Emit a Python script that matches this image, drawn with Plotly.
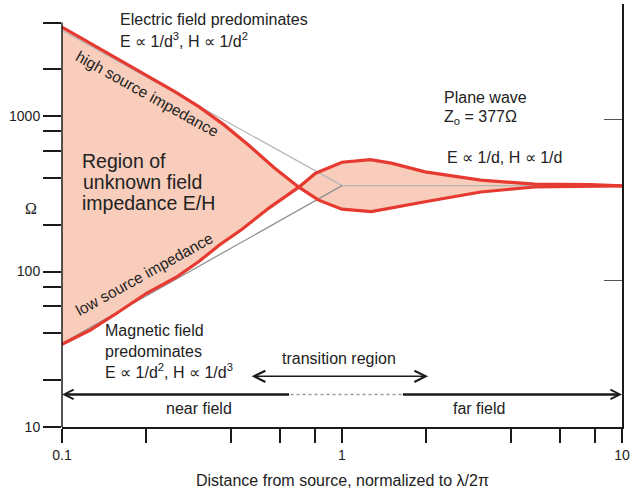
import numpy as np
import plotly.graph_objects as go

# ---------------- data ----------------
# high source impedance boundary (E/H in ohm vs distance normalised to lambda/2pi)
hi_x = [0.1, 0.1365, 0.2054, 0.252, 0.309, 0.379, 0.4655, 0.571, 0.701, 0.825, 1.0,
        1.273, 1.98, 3.13, 4.87, 7.70, 10]
hi_y = [3741, 2720, 1770, 1442, 1146, 878, 647.6, 467, 349, 288, 252,
        243, 281, 325, 350, 354, 356]
# low source impedance boundary
lo_x = [0.1, 0.1258, 0.1568, 0.2004, 0.256, 0.309, 0.364, 0.4395, 0.548, 0.701, 0.805, 1.0,
        1.262, 1.499, 1.98, 3.13, 4.87, 7.70, 10]
lo_y = [34.0, 41.9, 53.9, 72.5, 91.9, 116.5, 147.6, 187.3, 256, 349, 429.5, 505,
        525, 498, 438, 387, 365, 363, 356]
# asymptotes (grey guide lines)
gu_x = [0.1, 1, 10]
gu_y = [3570, 357, 357]
gl_x = [0.1, 1]
gl_y = [34.5, 357]
# region arrows
field_y = 16.2
near_x = [0.1, 0.655]
far_x = [1.63, 10]
trans_y = 21.2
trans_x = [0.47, 2.03]
# axes
x_ticks = [0.1, 0.2, 0.4, 0.6, 0.8, 1, 2, 4, 6, 8, 10]
x_text = ["0.1", "", "", "", "", "1", "", "", "", "", "10"]
y_ticks = [10, 20, 40, 60, 80, 100, 200, 400, 600, 800, 1000, 2000, 4000]
y_text = ["10", "", "", "", "", "100", "", "", "", "", "1000", "", ""]
r_ticks = [87.2, 957]
y_range_log = [1, 3.7212]

# ---------------- style ----------------
RED = "#E63A30"
FILL = "#F9CDBB"
AX = "#1a1a1a"
TXT = "#222222"
FONT = "Liberation Sans, Arial, sans-serif"
W, H = 634, 492
ML, MR, MT, MB = 62, 9, 4, 65
PW, PH = W - ML - MR, H - MT - MB


def P(px, py):
    return (px - ML) / PW, (H - MB - py) / PH


L = np.log10

fig = go.Figure()
fig.add_trace(go.Scatter(x=hi_x + lo_x[::-1], y=hi_y + lo_y[::-1], mode="lines",
                         fill="toself", fillcolor=FILL, line=dict(width=0), hoverinfo="skip"))
fig.add_trace(go.Scatter(x=gu_x, y=gu_y, mode="lines", line=dict(color="#B5B5B5", width=1.2), hoverinfo="skip"))
fig.add_trace(go.Scatter(x=gl_x, y=gl_y, mode="lines", line=dict(color="#8E8E8E", width=1.2), hoverinfo="skip"))
fig.add_trace(go.Scatter(x=hi_x, y=hi_y, mode="lines", line=dict(color=RED, width=3.2), hoverinfo="skip"))
fig.add_trace(go.Scatter(x=lo_x, y=lo_y, mode="lines", line=dict(color=RED, width=3.2), hoverinfo="skip"))
fig.add_trace(go.Scatter(x=[near_x[1], far_x[0]], y=[field_y, field_y], mode="lines",
                         line=dict(color="#9A9A9A", width=1.6, dash="dot"), hoverinfo="skip"))
fig.add_trace(go.Scatter(x=[10, 10], y=r_ticks, mode="markers", marker=dict(opacity=0),
                         yaxis="y2", hoverinfo="skip"))

ann = []


def text(t, px, py, xanchor="left", size=16, angle=0, family=FONT):
    x, y = P(px, py)
    ann.append(dict(text=t, x=x, y=y, xref="paper", yref="paper", xanchor=xanchor, yanchor="middle",
                    showarrow=False, textangle=angle, font=dict(size=size, color=TXT, family=family)))


text("Electric field predominates", 118, 19)
text("E ∝ 1/d<sup>3</sup>, H ∝ 1/d<sup>2</sup>", 118, 40)
text("Plane wave", 444, 97)
text("Z<sub>o</sub> = 377Ω", 444, 118)
text("E ∝ 1/d, H ∝ 1/d", 447, 157)
text("Region of", 80, 161, size=19.5)
text("unknown field", 81, 182, size=19.5)
text("impedance E/H", 80, 203, size=19.5)
text("Magnetic field", 103, 330)
text("predominates", 103, 351)
text("E ∝ 1/d<sup>2</sup>, H ∝ 1/d<sup>3</sup>", 103, 371)
text("transition region", 340, 358, xanchor="center")
text("near field", 199.5, 408, xanchor="center")
text("far field", 481.3, 408, xanchor="center")
text("Ω", 31, 208, xanchor="center", family="Liberation Serif, Times New Roman, serif")
text("high source impedance", 147, 94, xanchor="center", size=15.5, angle=29)
text("low source impedance", 144, 274, xanchor="center", size=15.5, angle=-29)
text("Distance from source, normalized to λ/2π", (ML + W - MR) / 2, 480, xanchor="center")

# arrows
ann.append(dict(x=L(near_x[0]), y=L(field_y), ax=L(near_x[1]), ay=L(field_y), xref="x", yref="y",
                axref="x", ayref="y", text="", showarrow=True, arrowhead=5, arrowsize=0.75,
                arrowwidth=2.5, arrowcolor=AX, standoff=0, startstandoff=0))
ann.append(dict(x=L(far_x[1]), y=L(field_y), ax=L(far_x[0]), ay=L(field_y), xref="x", yref="y",
                axref="x", ayref="y", text="", showarrow=True, arrowhead=5, arrowsize=0.75,
                arrowwidth=2.5, arrowcolor=AX, standoff=0, startstandoff=0))
ann.append(dict(x=L(trans_x[1]), y=L(trans_y), ax=L(trans_x[0]), ay=L(trans_y), xref="x", yref="y",
                axref="x", ayref="y", text="", showarrow=True, arrowhead=5, arrowsize=1.7,
                startarrowhead=5, startarrowsize=1.7, arrowside="end+start",
                arrowwidth=1.3, arrowcolor=AX, standoff=0, startstandoff=0))

shapes = [dict(type="line", xref="paper", yref="paper", x0=0, x1=0, y0=0,
               y1=(L(y_ticks[-1]) - y_range_log[0]) / (y_range_log[1] - y_range_log[0]),
               line=dict(color=AX, width=1.5), layer="above")]

fig.update_layout(
    width=W, height=H, margin=dict(l=ML, r=MR, t=MT, b=MB),
    paper_bgcolor="white", plot_bgcolor="white", showlegend=False,
    font=dict(family=FONT, size=14, color=TXT),
    annotations=ann, shapes=shapes,
    xaxis=dict(type="log", range=[-1, 1], showgrid=False, zeroline=False, showline=True,
               linecolor=AX, linewidth=1.5, ticks="outside", ticklen=14, tickwidth=1.5,
               tickcolor=AX, tickvals=x_ticks, ticktext=x_text, tickfont=dict(size=14, color=TXT)),
    yaxis=dict(type="log", range=y_range_log, showgrid=False, zeroline=False, showline=False,
               ticks="outside", ticklen=18, tickwidth=1.5, tickcolor=AX,
               tickvals=y_ticks, ticktext=y_text, tickfont=dict(size=14, color=TXT)),
    yaxis2=dict(type="log", range=y_range_log, overlaying="y", side="right", showgrid=False,
                zeroline=False, showline=True, linecolor=AX, linewidth=1.5, ticks="inside",
                ticklen=18, tickwidth=1.2, tickcolor="#555", tickvals=r_ticks, showticklabels=False),
)

fig.write_html("out.html")
